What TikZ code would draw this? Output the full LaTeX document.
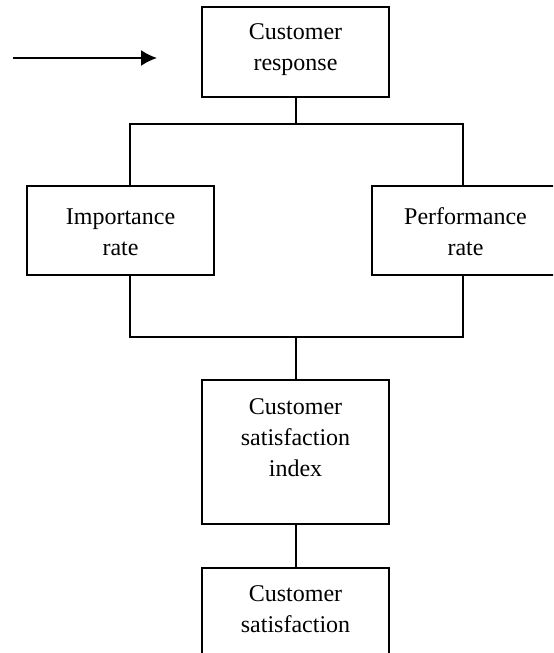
\documentclass[tikz,border=0pt]{standalone}
\usepackage{fontspec}
\setmainfont{Liberation Serif}
\usetikzlibrary{arrows.meta}
\begin{document}
\begin{tikzpicture}[x=0.5pt,y=-0.5pt,
  box/.style={draw, line width=0.9pt, minimum width=93.5pt, inner sep=0pt, outer sep=0pt, anchor=north west},
  lbl/.style={align=center, font=\fontsize{12}{15.5}\selectfont, inner sep=0pt},
  conn/.style={line width=0.9pt}]
\useasboundingbox (0,0) rectangle (553,653);
\clip (0,0) rectangle (553,653);
% boxes
\node[box, minimum height=45pt] (resp) at (202,7) {};
\node[box, minimum height=44.5pt] (imp) at (27,186) {};
\node[box, minimum height=44.5pt] (perf) at (372,186) {};
\node[box, minimum height=72pt] (csi) at (202,380) {};
\node[box, minimum height=50pt] (cs) at (202,568) {};
% texts
\node[lbl] (respt) at (295.5,50) {Customer\\response};
\node[lbl] (impt) at (120.5,232) {Importance\\rate};
\node[lbl] (perft) at (465.5,232) {Performance\\rate};
\node[lbl] (csit) at (295.5,438) {Customer\\satisfaction\\index};
\node[lbl] (cst) at (295.5,609) {Customer\\satisfaction};
% junction coordinates
\coordinate (j1) at (296,124);
\coordinate (jl) at (130,124);
\coordinate (jr) at (463,124);
\coordinate (bl) at (130,337);
\coordinate (br) at (463,337);
\coordinate (j2) at (296,337);
\coordinate (as) at (13,58);
\coordinate (ae) at (157,58);
% connectors
\draw[conn] (resp.south -| j1) -- (j1);
\draw[conn] (imp.north -| jl) -- (jl) -- (jr) -- (perf.north -| jr);
\draw[conn] (imp.south -| bl) -- (bl) -- (br) -- (perf.south -| br);
\draw[conn] (j2) -- (csi.north -| j2);
\draw[conn] (csi.south -| j2) -- (cs.north -| j2);
\draw[conn, -{Latex[length=8pt,width=8pt]}] (as) -- (ae);
\end{tikzpicture}
\end{document}
